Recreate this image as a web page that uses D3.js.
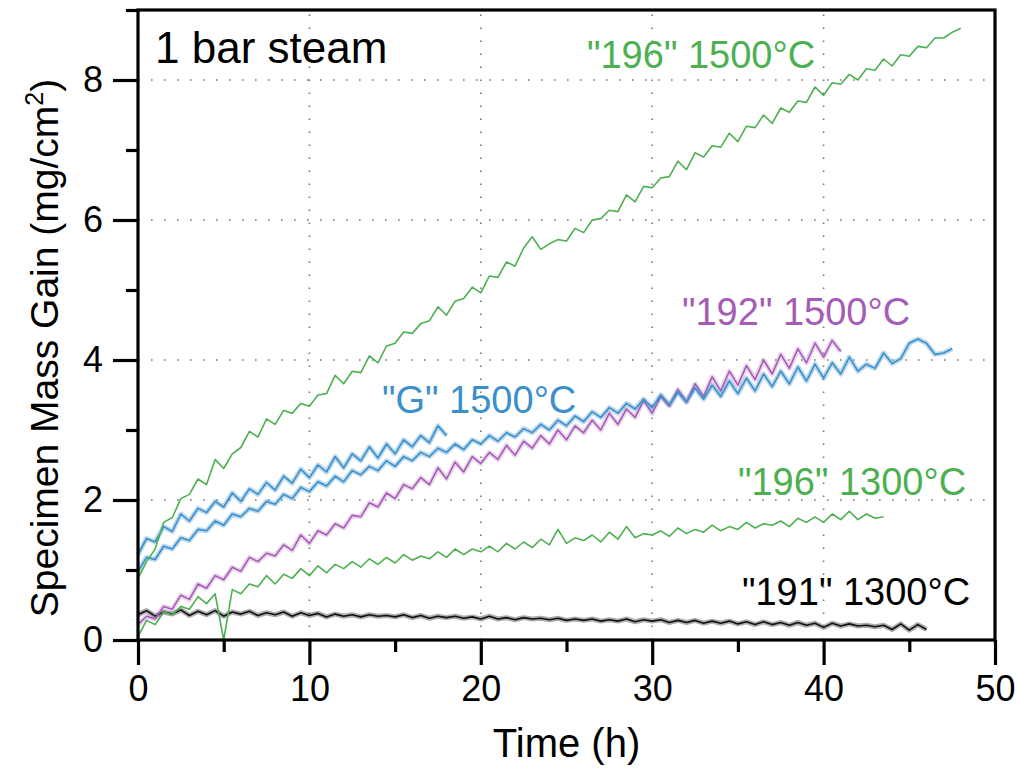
<!DOCTYPE html>
<html>
<head>
<meta charset="utf-8">
<script src="https://cdn.jsdelivr.net/npm/d3@7"></script>
<style>
  body { margin: 0; background: #fff; }
  svg { display: block; font-family: "Liberation Sans", Arial, Helvetica, sans-serif; }
</style>
</head>
<body>
<div class="chart"></div>
<script>

var xTicks = [0, 10, 20, 30, 40, 50];
var xMinor = [5, 15, 25, 35, 45];
var yTicks = [0, 2, 4, 6, 8];
var yMinor = [1, 3, 5, 7, 9];

// "196" 1500C (green, upper)
var green1500 = [0.88, 1.12, 1.30, 1.68, 1.75, 2.02, 2.08, 2.30, 2.22, 2.58, 2.45, 2.66, 2.75, 2.98, 2.90, 3.16,
  3.08, 3.28, 3.24, 3.38, 3.34, 3.50, 3.52, 3.78, 3.66, 3.84, 3.82, 4.06, 3.96, 4.20, 4.24, 4.40,
  4.38, 4.52, 4.56, 4.76, 4.64, 4.84, 4.88, 5.04, 4.96, 5.20, 5.18, 5.40, 5.34, 5.60, 5.76, 5.58,
  5.66, 5.72, 5.70, 5.88, 5.82, 6.00, 6.02, 6.14, 6.12, 6.36, 6.26, 6.48, 6.46, 6.60, 6.62, 6.84,
  6.72, 6.96, 6.90, 7.06, 7.04, 7.24, 7.12, 7.34, 7.32, 7.50, 7.38, 7.60, 7.54, 7.70, 7.68, 7.90,
  7.78, 7.96, 7.94, 8.08, 8.00, 8.16, 8.14, 8.30, 8.20, 8.36, 8.34, 8.48, 8.46, 8.60, 8.60, 8.68, 8.74];

// "196" 1300C (green, lower)
var green1300 = [0.05, 0.28, 0.22, 0.40, 0.36, 0.48, 0.44, 0.62, 0.52, 0.66, 0.00, 0.72, 0.66, 0.80, 0.76, 0.92,
  0.80, 0.94, 0.88, 1.02, 0.92, 1.06, 0.96, 1.08, 1.02, 1.12, 1.04, 1.16, 1.08, 1.18, 1.10, 1.22,
  1.14, 1.20, 1.16, 1.26, 1.18, 1.30, 1.22, 1.30, 1.26, 1.34, 1.26, 1.38, 1.30, 1.40, 1.32, 1.44,
  1.36, 1.58, 1.38, 1.46, 1.42, 1.50, 1.40, 1.54, 1.44, 1.62, 1.46, 1.52, 1.50, 1.56, 1.48, 1.60,
  1.52, 1.58, 1.54, 1.64, 1.56, 1.62, 1.58, 1.68, 1.60, 1.66, 1.64, 1.70, 1.62, 1.74, 1.68, 1.76,
  1.68, 1.80, 1.72, 1.84, 1.72, 1.80, 1.74, 1.76];

// "G" 1500C (blue), short run
var blueShort = [1.22, 1.45, 1.40, 1.62, 1.55, 1.80, 1.70, 1.88, 1.82, 1.98, 1.90, 2.10, 1.98, 2.16, 2.08, 2.25,
  2.14, 2.34, 2.24, 2.44, 2.32, 2.50, 2.40, 2.62, 2.46, 2.66, 2.56, 2.76, 2.60, 2.80, 2.66, 2.86,
  2.76, 2.92, 2.82, 3.06, 2.92];

// "G" 1500C (blue), long run
var blueLong = [0.98, 1.18, 1.15, 1.34, 1.30, 1.46, 1.42, 1.58, 1.56, 1.70, 1.64, 1.80, 1.76, 1.88, 1.84, 1.98,
  1.94, 2.08, 2.02, 2.18, 2.12, 2.26, 2.20, 2.34, 2.26, 2.42, 2.36, 2.48, 2.42, 2.56, 2.48, 2.62,
  2.56, 2.68, 2.62, 2.74, 2.68, 2.80, 2.72, 2.86, 2.80, 2.92, 2.84, 2.96, 2.90, 3.02, 2.96, 3.08,
  3.00, 3.14, 3.06, 3.20, 3.12, 3.26, 3.18, 3.32, 3.24, 3.38, 3.30, 3.44, 3.32, 3.50, 3.36, 3.54,
  3.40, 3.60, 3.44, 3.64, 3.48, 3.70, 3.52, 3.74, 3.56, 3.80, 3.62, 3.84, 3.66, 3.90, 3.70, 3.94,
  3.74, 3.96, 3.80, 4.04, 3.84, 3.94, 3.88, 4.10, 3.95, 4.02, 4.24, 4.30, 4.24, 4.08, 4.10, 4.16];

// "192" 1500C (purple)
var purple1500 = [0.22, 0.34, 0.30, 0.48, 0.44, 0.64, 0.58, 0.80, 0.74, 0.92, 0.86, 1.04, 0.98, 1.18, 1.12, 1.24,
  1.20, 1.36, 1.28, 1.50, 1.38, 1.56, 1.50, 1.66, 1.60, 1.78, 1.76, 1.96, 1.90, 2.10, 2.02, 2.22,
  2.16, 2.32, 2.22, 2.46, 2.30, 2.54, 2.40, 2.62, 2.52, 2.68, 2.58, 2.78, 2.64, 2.84, 2.74, 2.92,
  2.80, 3.00, 2.86, 3.06, 2.96, 3.14, 3.00, 3.24, 3.08, 3.30, 3.18, 3.42, 3.24, 3.48, 3.34, 3.58,
  3.40, 3.66, 3.48, 3.76, 3.56, 3.84, 3.64, 3.92, 3.72, 4.00, 3.80, 4.08, 3.88, 4.16, 3.96, 4.24,
  4.04, 4.28, 4.12];

// "191" 1300C (black)
var black1300 = [0.36, 0.42, 0.34, 0.40, 0.37, 0.43, 0.35, 0.41, 0.36, 0.42, 0.34, 0.40, 0.37, 0.41, 0.35, 0.39,
  0.36, 0.40, 0.34, 0.39, 0.35, 0.38, 0.33, 0.37, 0.34, 0.36, 0.33, 0.36, 0.34, 0.35, 0.33, 0.36,
  0.32, 0.35, 0.31, 0.34, 0.32, 0.34, 0.31, 0.33, 0.30, 0.34, 0.30, 0.32, 0.29, 0.32, 0.30, 0.31,
  0.29, 0.31, 0.28, 0.30, 0.28, 0.30, 0.27, 0.29, 0.27, 0.30, 0.26, 0.29, 0.27, 0.29, 0.25, 0.28,
  0.25, 0.28, 0.24, 0.27, 0.24, 0.27, 0.23, 0.26, 0.22, 0.26, 0.22, 0.25, 0.21, 0.25, 0.21, 0.24,
  0.18, 0.24, 0.20, 0.23, 0.20, 0.21, 0.19, 0.21, 0.15, 0.23, 0.14, 0.22, 0.15];

var step = 0.5;

var GREEN = '#4cb050';
var BLUE = '#3b8fcb';
var PURPLE = '#a65cb6';

var series = [
  { values: black1300, color: '#111', fuzz: 0.35 },
  { values: green1300, color: GREEN, fuzz: 0 },
  { values: purple1500, color: PURPLE, fuzz: 0.25 },
  { values: blueLong, color: BLUE, fuzz: 0.35 },
  { values: blueShort, color: BLUE, fuzz: 0.35 },
  { values: green1500, color: GREEN, fuzz: 0 }
];

var labels = [
  { text: '"196" 1500°C', color: GREEN, x: 587, y: 68 },
  { text: '"192" 1500°C', color: PURPLE, x: 682, y: 325 },
  { text: '"G" 1500°C', color: BLUE, x: 382, y: 413 },
  { text: '"196" 1300°C', color: GREEN, x: 738, y: 495 },
  { text: '"191" 1300°C', color: '#000', x: 742, y: 605 }
];

var W = 1017, H = 769;
var padL = 138, padR = 995, padT = 10, padB = 640;

var svg = d3.select('.chart').append('svg').attr('width', W).attr('height', H);

var x = d3.scaleLinear().domain([0, 50]).range([padL, padR]);
var y = d3.scaleLinear().domain([0, 9]).range([padB, padT]);

// dotted grid
var grid = svg.append('g').attr('stroke', '#777').attr('stroke-width', 1.6)
  .attr('stroke-dasharray', '1.6,11.4').attr('stroke-linecap', 'butt');
grid.selectAll('.gx').data([10, 20, 30, 40]).enter().append('line')
  .attr('x1', function(d) { return x(d); }).attr('x2', function(d) { return x(d); })
  .attr('y1', padB).attr('y2', padT);
grid.selectAll('.gy').data([2, 4, 6, 8]).enter().append('line')
  .attr('x1', padL).attr('x2', padR)
  .attr('y1', function(d) { return y(d); }).attr('y2', function(d) { return y(d); });

// curves
var line = d3.line()
  .x(function(d, i) { return x(i * step); })
  .y(function(d) { return y(d); });

series.forEach(function(s) {
  if (s.fuzz) {
    svg.append('path').datum(s.values)
      .attr('d', line).attr('fill', 'none')
      .attr('stroke', s.color).attr('stroke-opacity', s.fuzz)
      .attr('stroke-width', 5).attr('stroke-linejoin', 'round');
  }
  svg.append('path').datum(s.values)
    .attr('d', line).attr('fill', 'none')
    .attr('stroke', s.color).attr('stroke-width', 1.6)
    .attr('stroke-linejoin', 'round');
});

// frame
svg.append('rect').attr('x', padL).attr('y', padT)
  .attr('width', padR - padL).attr('height', padB - padT)
  .attr('fill', 'none').attr('stroke', '#000').attr('stroke-width', 3.2);

// axes
var axisStyle = function(g) {
  g.select('.domain').remove();
  g.selectAll('.tick line').attr('stroke', '#000').attr('stroke-width', 3.2);
  g.selectAll('.tick text').attr('font-size', 36).attr('fill', '#000')
    .attr('font-family', '"Liberation Sans", Arial, Helvetica, sans-serif');
};

svg.append('g').attr('transform', 'translate(0,' + padB + ')')
  .call(d3.axisBottom(x).tickValues(xTicks).tickSize(25).tickPadding(10).tickFormat(d3.format('d')))
  .call(axisStyle);
svg.append('g').attr('transform', 'translate(0,' + padB + ')')
  .call(d3.axisBottom(x).tickValues(xMinor).tickSize(12).tickFormat(''))
  .call(axisStyle);
svg.append('g').attr('transform', 'translate(' + padL + ',0)')
  .call(d3.axisLeft(y).tickValues(yTicks).tickSize(25).tickPadding(10).tickFormat(d3.format('d')))
  .call(axisStyle);
svg.append('g').attr('transform', 'translate(' + padL + ',0)')
  .call(d3.axisLeft(y).tickValues(yMinor).tickSize(12).tickFormat(''))
  .call(axisStyle);

// axis titles
svg.append('text').attr('x', (padL + padR) / 2).attr('y', 757)
  .attr('text-anchor', 'middle').attr('font-size', 40).text('Time (h)');

var yt = svg.append('text').attr('transform', 'translate(58,348) rotate(-90)')
  .attr('text-anchor', 'middle').attr('font-size', 39);
yt.append('tspan').text('Specimen Mass Gain (mg/cm');
yt.append('tspan').attr('dy', -15).attr('font-size', 25).text('2');
yt.append('tspan').attr('dy', 15).text(')');

// annotations
svg.append('text').attr('x', 155).attr('y', 63).attr('font-size', 44).text('1 bar steam');

svg.selectAll('.lab').data(labels).enter().append('text')
  .attr('x', function(d) { return d.x; })
  .attr('y', function(d) { return d.y; })
  .attr('fill', function(d) { return d.color; })
  .attr('font-size', 38)
  .text(function(d) { return d.text; });
</script>
</body>
</html>
